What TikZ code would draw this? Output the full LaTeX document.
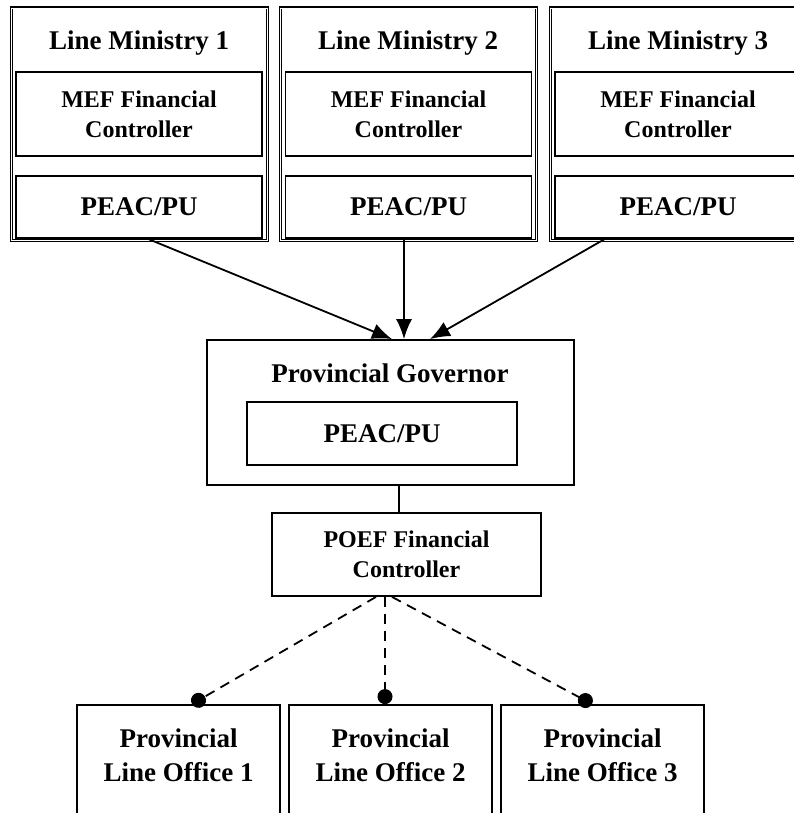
\documentclass[tikz,border=0pt]{standalone}
\usepackage{fontspec}
\setmainfont{Liberation Serif}
\usetikzlibrary{arrows.meta}
\begin{document}
\begin{tikzpicture}[x=1pt,y=-1pt,
  box/.style={draw,line width=1.8pt,inner sep=0pt},
  minbox/.style={draw,double,line width=1.1pt,double distance=0.8pt,inner sep=0pt,minimum width=256pt,minimum height=232pt},
  bigtext/.style={font=\bfseries\fontsize{27}{34}\selectfont,align=center,inner sep=0pt},
  smalltext/.style={font=\bfseries\fontsize{24}{30}\selectfont,align=center,inner sep=0pt},
  feed/.style={line width=1.8pt,-{Latex[length=20pt,width=16pt]}},
  link/.style={line width=1.8pt,dash pattern=on 10pt off 7pt,-{Circle[length=15pt]}}]
\useasboundingbox (0,0) rectangle (794,813);
\clip (0,0) rectangle (794,813);
% line ministries
\node[minbox] (lm1) at (139,124){};
\node[minbox] (lm2) at (408,124){};
\node[minbox] (lm3) at (678,124){};
\node[bigtext] (lm1t) at (139,43){Line Ministry 1};
\node[bigtext] (lm2t) at (408,43){Line Ministry 2};
\node[bigtext] (lm3t) at (678,43){Line Ministry 3};
\node[box,smalltext,minimum width=246pt,minimum height=84pt] (mef1) at (139,114){MEF Financial\\Controller};
\node[box,smalltext,minimum width=246pt,minimum height=84pt] (mef2) at (408.5,114){MEF Financial\\Controller};
\node[box,smalltext,minimum width=246pt,minimum height=84pt] (mef3) at (678,114){MEF Financial\\Controller};
\node[box,bigtext,minimum width=246pt,minimum height=62pt] (peac1) at (139,207){PEAC/PU};
\node[box,bigtext,minimum width=246pt,minimum height=62pt] (peac2) at (408.5,207){PEAC/PU};
\node[box,bigtext,minimum width=246pt,minimum height=62pt] (peac3) at (678,207){PEAC/PU};
% province
\node[box,minimum width=367pt,minimum height=145pt] (gov) at (390.5,412.5){};
\node[bigtext] (govt) at (390,373){Provincial Governor};
\node[box,bigtext,minimum width=270pt,minimum height=63pt] (peac4) at (382,433.5){PEAC/PU};
\node[box,smalltext,minimum width=269pt,minimum height=83pt] (poef) at (406.5,554.5){POEF Financial\\Controller};
% line offices
\node[box,minimum width=203pt,minimum height=140pt] (po1) at (178.5,775){};
\node[box,minimum width=203pt,minimum height=140pt] (po2) at (390.5,775){};
\node[box,minimum width=203pt,minimum height=140pt] (po3) at (602.5,775){};
\node[bigtext] (po1t) at (178.5,755){Provincial\\Line Office 1};
\node[bigtext] (po2t) at (390.5,755){Provincial\\Line Office 2};
\node[bigtext] (po3t) at (602.5,755){Provincial\\Line Office 3};
% connectors
\draw[feed] ([xshift=9pt]peac1.south) -- ([xshift=1.5pt]gov.north);
\draw[feed] ([xshift=-4.5pt]peac2.south) -- ([xshift=13.5pt]gov.north);
\draw[feed] ([xshift=-73pt]peac3.south) -- ([xshift=39.5pt]gov.north);
\draw[line width=1.8pt] ([xshift=8.5pt]gov.south) -- ([xshift=-7.5pt]poef.north);
\draw[link] ([xshift=-30.5pt]poef.south) -- ([xshift=13.5pt]po1.north);
\draw[link] ([xshift=-21.5pt]poef.south) -- ([xshift=-5.5pt]po2.north);
\draw[link] ([xshift=-14.5pt]poef.south) -- ([xshift=-10.5pt]po3.north);
\end{tikzpicture}
\end{document}
